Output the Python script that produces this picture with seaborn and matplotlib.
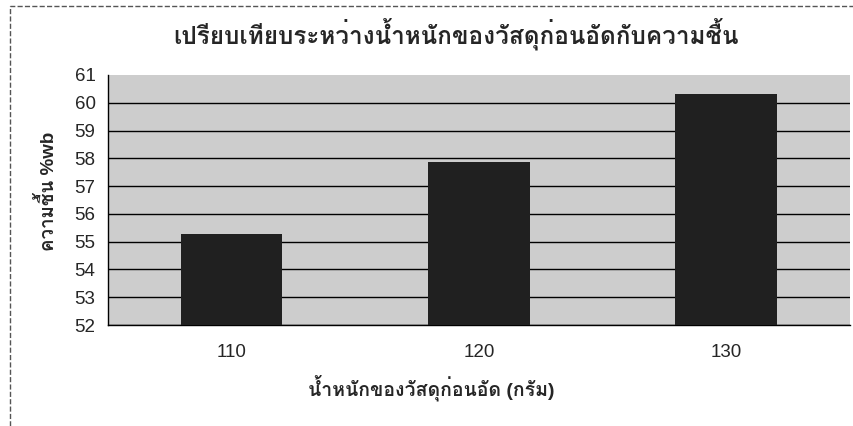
import matplotlib
matplotlib.use("Agg")
import matplotlib.pyplot as plt
from matplotlib import font_manager
from matplotlib.ft2font import FT2Font
from matplotlib.patches import Rectangle
import seaborn as sns
import pandas as pd

# ข้อมูล: น้ำหนักวัสดุก่อนอัด (กรัม) กับความชื้น (%wb)
weights = ["110", "120", "130"]
moisture = [55.27, 57.86, 60.33]
y_ticks = list(range(52, 62))

title = "เปรียบเทียบระหว่างน้ำหนักของวัสดุก่อนอัดกับความชื้น"
x_label = "น้ำหนักของวัสดุก่อนอัด (กรัม)"
y_label = "ความชื้น %wb"


def find_thai_font():
    # หา font ที่มีตัวอักษรไทย
    for f in font_manager.fontManager.ttflist:
        try:
            if 0x0E01 in FT2Font(f.fname).get_charmap():
                return f.name
        except Exception:
            pass
    return None


sns.set_style("white")
thai_font = find_thai_font()
families = ["Liberation Sans"]
if thai_font:
    families.append(thai_font)
families.append("DejaVu Sans")
plt.rcParams["font.family"] = families

df = pd.DataFrame({"weight": weights, "moisture": moisture})

fig = plt.figure(figsize=(8.54, 4.26), dpi=100)
ax = fig.add_axes([0.1265, 0.237, 0.8685, 0.587])
ax.set_facecolor("#cdcdcd")

sns.barplot(data=df, x="weight", y="moisture", color="#202020",
            width=0.41, saturation=1, linewidth=0, ax=ax, zorder=3)

ax.set_ylim(52, 61)
ax.set_xlim(-0.5, 2.5)
ax.set_yticks(y_ticks)
ax.set_yticklabels([str(t) for t in y_ticks], fontsize=13.5)
ax.tick_params(axis="x", length=0, labelsize=13.5, pad=14)
ax.set_xticks([-0.5, 0.5, 1.5, 2.5], minor=True)
ax.tick_params(axis="x", which="minor", length=5, width=1, color="black", direction="out")
ax.tick_params(axis="y", length=5, width=1, color="black", direction="out", pad=4)

ax.grid(axis="y", color="black", linewidth=1)
ax.yaxis.get_gridlines()[-1].set_visible(False)
ax.set_axisbelow(True)
for side in ["top", "right"]:
    ax.spines[side].set_visible(False)
for side in ["left", "bottom"]:
    ax.spines[side].set_color("black")
    ax.spines[side].set_linewidth(1)

ax.set_xlabel("")
ax.set_ylabel("")
fig.text(0.534, 0.92, title, ha="center", va="center", fontsize=17.5, fontweight="bold")
fig.text(0.505, 0.089, x_label, ha="center", va="center", fontsize=14, fontweight="bold")
fig.text(0.056, 0.55, y_label, ha="center", va="center", fontsize=13.5,
         fontweight="bold", rotation=90)

# กรอบของแผนภูมิ
fig.patches.append(Rectangle((0.012, -0.05), 1.2, 1.037, transform=fig.transFigure,
                             fill=False, edgecolor="#555555", linewidth=1,
                             linestyle="--", figure=fig))

fig.savefig("out.png", dpi=100)
